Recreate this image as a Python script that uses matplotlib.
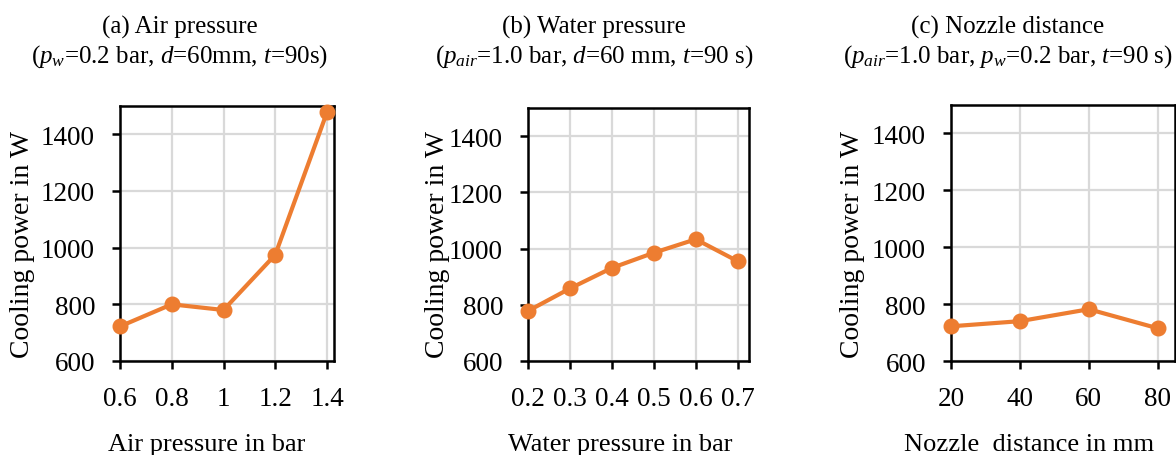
import matplotlib
matplotlib.use('Agg')
import matplotlib.pyplot as plt

plt.rcParams['font.family'] = ['Liberation Serif', 'DejaVu Serif']
plt.rcParams['mathtext.fontset'] = 'custom'
plt.rcParams['mathtext.rm'] = 'Liberation Serif'
plt.rcParams['mathtext.it'] = 'Liberation Serif:italic'

# data
air_p = [0.6, 0.8, 1.0, 1.2, 1.4]
air_power = [722, 800, 780, 975, 1478]

water_p = [0.2, 0.3, 0.4, 0.5, 0.6, 0.7]
water_power = [778, 858, 931, 985, 1033, 955]

dist = [20, 40, 60, 80]
dist_power = [722, 740, 782, 715]

titles = [
    "(a) Air pressure\n($p_{w}$=0.2 bar, $d$=60mm, $t$=90s)",
    "(b) Water pressure\n($p_{air}$=1.0 bar, $d$=60 mm, $t$=90 s)",
    "(c) Nozzle distance\n($p_{air}$=1.0 bar, $p_{w}$=0.2 bar, $t$=90 s)",
]
xlabels = ["Air pressure in bar", "Water pressure in bar", "Nozzle  distance in mm"]
xticks = [air_p, water_p, dist]
xticklabels = [["0.6", "0.8", "1", "1.2", "1.4"],
               ["0.2", "0.3", "0.4", "0.5", "0.6", "0.7"],
               ["20", "40", "60", "80"]]
xlims = [(0.6, 1.427), (0.2, 0.727), (20, 85)]
xs = [air_p, water_p, dist]
ys = [air_power, water_power, dist_power]

orange = '#ED7D31'

fig = plt.figure(figsize=(11.76, 4.56), dpi=100)
W, H = 1176, 456
# axes boxes in pixels: left, right, top, bottom
boxes = [(120, 334, 107, 362), (528, 749, 109, 362), (951, 1175, 106, 362)]
title_x = [180, 594, 1008]
xlabel_x = [207, 620, 1029]
ylabel_right = [35, 450, 865]

for i in range(3):
    l, r, t, b = boxes[i]
    ax = fig.add_axes([l / W, 1 - b / H, (r - l) / W, (b - t) / H])
    ax.plot(xs[i], ys[i], color=orange, lw=3, marker='o', ms=10.5,
            clip_on=False, zorder=3)
    ax.set_xlim(*xlims[i])
    ax.set_ylim(600, 1500)
    ax.set_yticks([600, 800, 1000, 1200, 1400])
    ax.set_xticks(xticks[i])
    ax.set_xticklabels(xticklabels[i])
    ax.grid(True, color='#d9d9d9', lw=1.6)
    ax.set_axisbelow(True)
    for s in ax.spines.values():
        s.set_linewidth(1.8)
        s.set_color('black')
    ax.tick_params(axis='both', direction='out', length=6, width=1.8,
                   labelsize=19.5)
    ax.tick_params(axis='x', pad=12)
    ax.tick_params(axis='y', pad=12)
    ax.set_xlabel(xlabels[i], fontsize=19)
    ax.xaxis.set_label_coords((xlabel_x[i] - l) / (r - l), -(434 - b) / (b - t))
    ax.set_ylabel("Cooling power in W", fontsize=20)
    ax.yaxis.set_label_coords((ylabel_right[i] - l) / (r - l), (b - 244) / (b - t))
    fig.text(title_x[i] / W, 1 - 16 / H, titles[i], ha='center', va='top',
             fontsize=18, linespacing=1.2)

fig.savefig('out.png', dpi=100)
